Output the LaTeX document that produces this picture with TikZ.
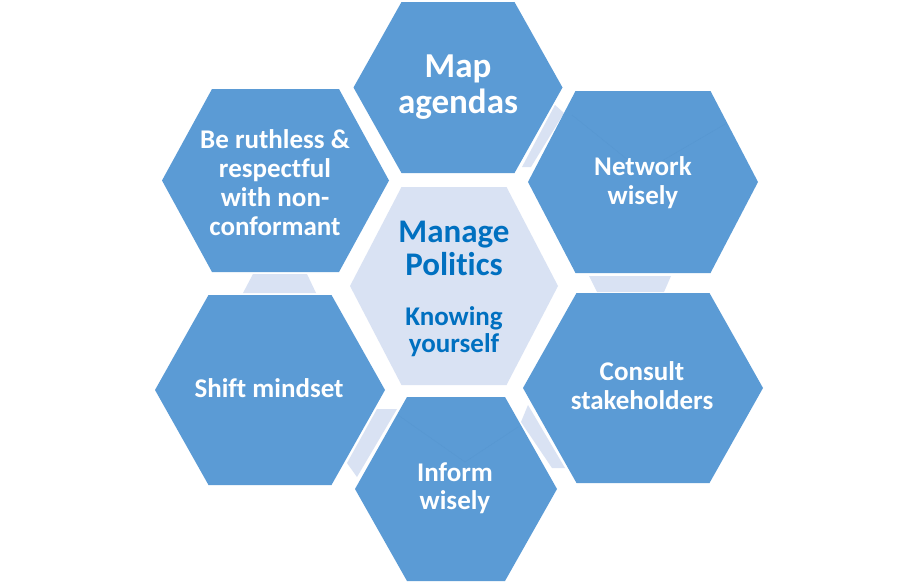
\documentclass[tikz,border=0pt]{standalone}
\usepackage{fontspec}
\setmainfont[Ligatures=NoCommon]{Carlito}
\definecolor{hexblue}{HTML}{5B9BD5}
\definecolor{hexlight}{HTML}{D9E2F3}
\definecolor{centertext}{HTML}{0070C0}
\definecolor{bevel}{HTML}{5797D1}
\tikzset{
  hexbox/.style={fill=hexblue, draw=none},
  centerbox/.style={fill=hexlight, draw=none},
  linkstrip/.style={fill=hexlight, draw=none},
  bevelline/.style={draw=bevel, line width=0.5pt},
  hextext/.style={anchor=base, text=white, font=\bfseries\fontsize{27}{29}\selectfont, inner sep=0pt},
  bigtext/.style={anchor=base, text=white, font=\bfseries\fontsize{35}{36}\selectfont, inner sep=0pt},
  ctrbig/.style={anchor=base, text=centertext, font=\bfseries\fontsize{33}{33}\selectfont, inner sep=0pt},
  ctrsmall/.style={anchor=base, text=centertext, font=\bfseries\fontsize{27}{27}\selectfont, inner sep=0pt}
}
\begin{document}
\begin{tikzpicture}[x=1pt,y=-1pt]
\useasboundingbox[fill=white] (0,0) rectangle (916,584);
% link strips
\path[linkstrip] (555,105) -- (564,113) -- (531,167) -- (522,167) -- cycle;
\path[linkstrip] (589,276) -- (671,276) -- (664,292) -- (597,292) -- cycle;
\path[linkstrip] (528,405) -- (565,468) -- (552,468) -- (521,422) -- cycle;
\path[linkstrip] (377,409) -- (397,409) -- (357,477) -- (347,463) -- cycle;
\path[linkstrip] (253,274) -- (307,274) -- (316,293) -- (243,293) -- cycle;
% hexagons
\path[hexbox] (353.5,87.5) -- (401.5,2) -- (514.5,2) -- (562.5,87.5) -- (514.5,173) -- (401.5,173) -- cycle;
\path[hexbox] (528,182) -- (575.5,91) -- (710.5,91) -- (758,182) -- (710.5,273) -- (575.5,273) -- cycle;
\path[centerbox] (350,286) -- (401.5,187) -- (506.5,187) -- (558,286) -- (506.5,385) -- (401.5,385) -- cycle;
\path[hexbox] (162,180.5) -- (212,89) -- (339,89) -- (389,180.5) -- (339,272) -- (212,272) -- cycle;
\path[hexbox] (155,390) -- (208.5,295) -- (331.5,295) -- (385,390) -- (331.5,485) -- (208.5,485) -- cycle;
\path[hexbox] (523,388) -- (576.5,293) -- (709.5,293) -- (763,388) -- (709.5,483) -- (576.5,483) -- cycle;
\path[hexbox] (355,489) -- (407,397) -- (505,397) -- (557,489) -- (505,581) -- (407,581) -- cycle;
% faint bevel lines
\draw[bevelline] (398,415) -- (465,462) -- (518,427);
\draw[bevelline] (572,115) -- (643,172) -- (727,123);
% texts
\node[bigtext] (t1a) at (458,77) {Map};
\node[bigtext] (t1b) at (458,113) {agendas};
\node[hextext] (t2a) at (643,175) {Network};
\node[hextext] (t2b) at (643,204) {wisely};
\node[hextext] (t3a) at (275,148) {Be ruthless \&};
\node[hextext] (t3b) at (275,177) {respectful};
\node[hextext] (t3c) at (275,206) {with non-};
\node[hextext] (t3d) at (275,235) {conformant};
\node[ctrbig] (t4a) at (454,242) {Manage};
\node[ctrbig] (t4b) at (454,275) {Politics};
\node[ctrsmall] (t4c) at (454,325) {Knowing};
\node[ctrsmall] (t4d) at (454,352) {yourself};
\node[hextext] (t5a) at (269,397) {Shift mindset};
\node[hextext] (t6a) at (642,380) {Consult};
\node[hextext] (t6b) at (642,409) {stakeholders};
\node[hextext] (t7a) at (455,481) {Inform};
\node[hextext] (t7b) at (455,509) {wisely};
\end{tikzpicture}
\end{document}
